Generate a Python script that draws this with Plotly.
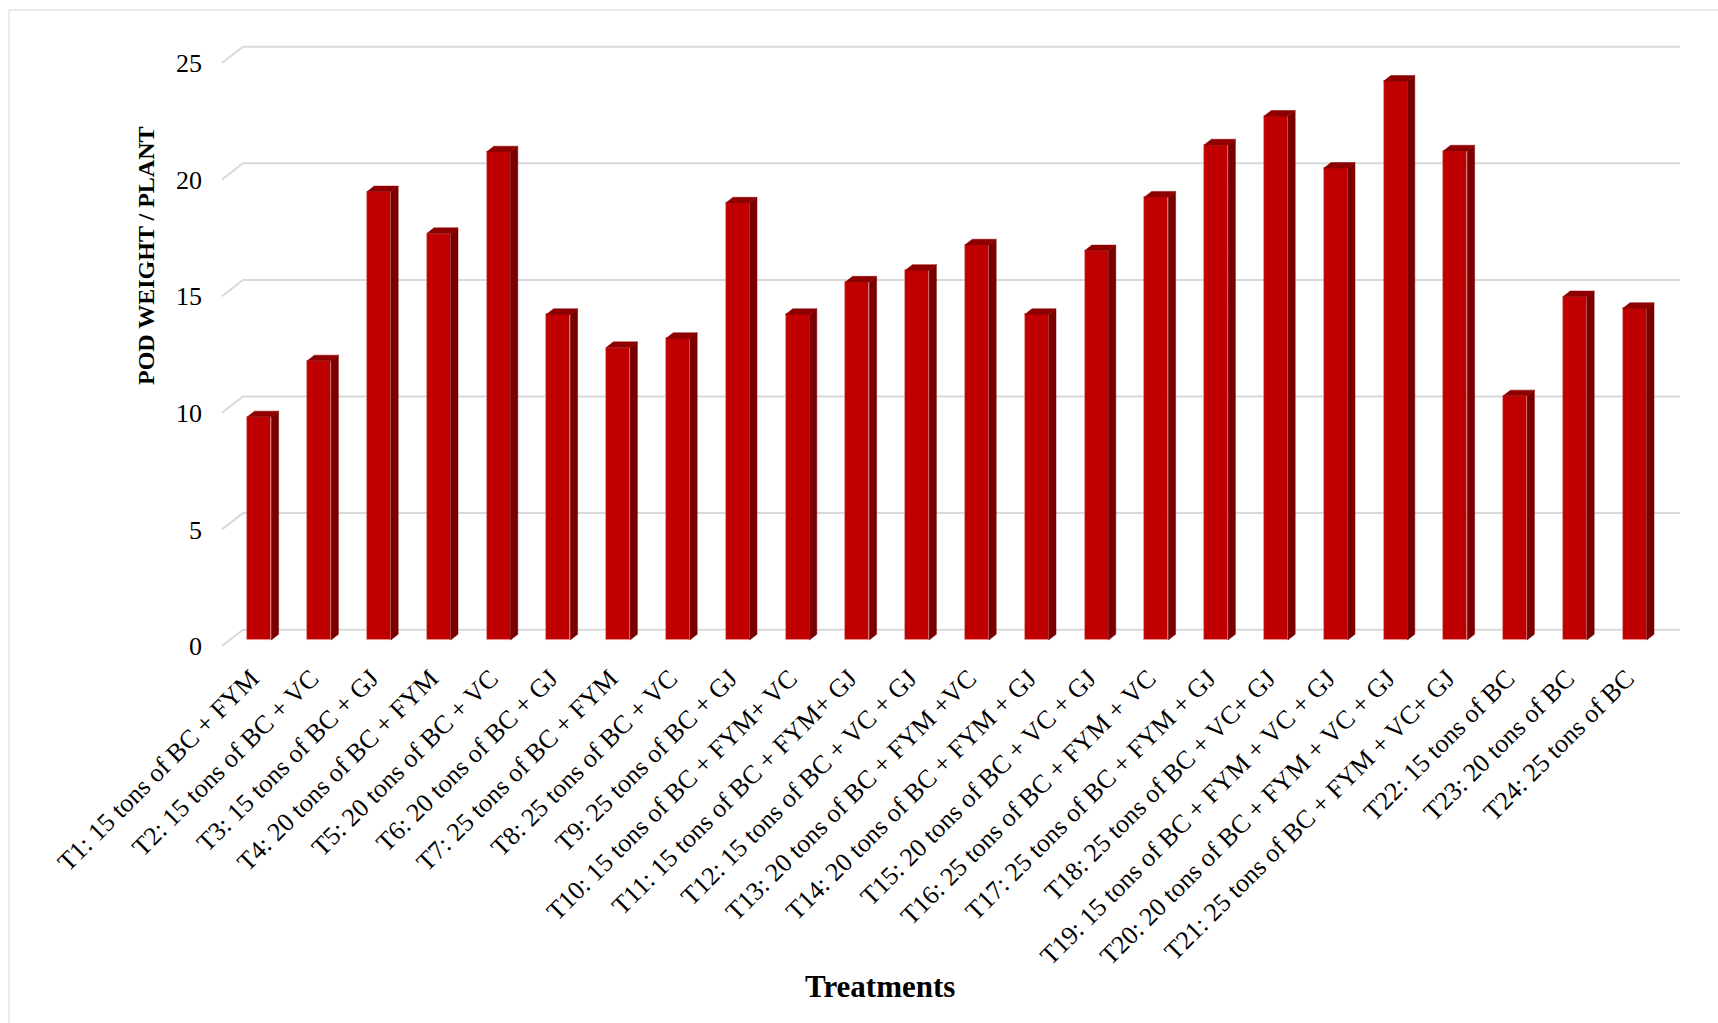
import plotly.graph_objects as go

# Treatment names and pod weight per plant
treatments = [
    "T1: 15 tons of BC + FYM", "T2: 15 tons of BC + VC", "T3: 15 tons of BC + GJ",
    "T4: 20 tons of BC + FYM", "T5: 20 tons of BC + VC", "T6: 20 tons of BC + GJ",
    "T7: 25 tons of BC + FYM", "T8: 25 tons of BC + VC", "T9: 25 tons of BC + GJ",
    "T10: 15 tons of BC + FYM+ VC", "T11: 15 tons of BC + FYM+ GJ",
    "T12: 15 tons of BC + VC + GJ", "T13: 20 tons of BC + FYM +VC",
    "T14: 20 tons of BC + FYM + GJ", "T15: 20 tons of BC + VC + GJ",
    "T16: 25 tons of BC + FYM + VC", "T17: 25 tons of BC + FYM + GJ",
    "T18: 25 tons of BC + VC+ GJ", "T19: 15 tons of BC + FYM + VC + GJ",
    "T20: 20 tons of BC + FYM + VC + GJ", "T21: 25 tons of BC + FYM + VC+ GJ",
    "T22: 15 tons of BC", "T23: 20 tons of BC", "T24: 25 tons of BC",
]
pod_weight = [
    9.57, 11.97, 19.22, 17.43, 20.93, 13.96, 12.54, 12.93, 18.74, 13.96,
    15.35, 15.85, 16.94, 13.96, 16.69, 18.99, 21.23, 22.46, 20.23, 23.96,
    20.97, 10.47, 14.72, 14.22,
]
y_ticks = [0, 5, 10, 15, 20, 25]

# ---- layout geometry (pixels) ----
W, H = 1718, 1023
plot_l, plot_r, plot_t, plot_b = 220, 1682, 30, 652
x_first, x_step = 259.3, 59.8      # centre of first column face, column pitch
y_zero, y_unit = 646, 23.32        # front-plane zero line, pixels per unit
wall_front_px, wall_back_px, wall_right_px = 222, 243, 1680
wall_depth_px = 16.3
bar_face_px, bar_depth_x_px, bar_depth_y_px, bar_lift_px = 24, 7.3, 5.7, 6
label_shift_px = 8                 # category labels sit slightly left of the column face

def xd(px):
    return (px - x_first) / x_step

x_range = [xd(plot_l), xd(plot_r)]
y_range = [(y_zero - plot_b) / y_unit, (y_zero - plot_t) / y_unit]

bar_w = bar_face_px / x_step
cap_dx = bar_depth_x_px / x_step
cap_dy = bar_depth_y_px / y_unit
base = bar_lift_px / y_unit
wall_dy = wall_depth_px / y_unit

idx = list(range(len(treatments)))
label_pos = [i - label_shift_px / x_step for i in idx]

fig = go.Figure()

# front faces of the columns
fig.add_trace(go.Bar(
    x=idx, y=pod_weight, base=[base] * len(idx), width=bar_w,
    marker=dict(color="#C00000", line=dict(color="rgba(235,160,160,0.7)", width=0.8)),
    showlegend=False, name="POD WEIGHT / PLANT",
))

# side and top faces giving depth
sx, sy, tx, ty = [], [], [], []
for i, v in zip(idx, pod_weight):
    xl, xr = i - bar_w / 2, i + bar_w / 2
    top = base + v
    sx += [xr, xr + cap_dx, xr + cap_dx, xr, xr, None]
    sy += [base, base + cap_dy, top + cap_dy, top, base, None]
    tx += [xl, xl + cap_dx, xr + cap_dx, xr, xl, None]
    ty += [top, top + cap_dy, top + cap_dy, top, top, None]
fig.add_trace(go.Scatter(x=sx, y=sy, mode="lines", fill="toself",
                         fillcolor="#7A0000", line=dict(color="#7A0000", width=0.5),
                         hoverinfo="skip", showlegend=False))
fig.add_trace(go.Scatter(x=tx, y=ty, mode="lines", fill="toself",
                         fillcolor="#8E0000", line=dict(color="#8E0000", width=0.5),
                         hoverinfo="skip", showlegend=False))

serif = "Liberation Serif, Times New Roman, serif"
plot_w = plot_r - plot_l
plot_h = plot_b - plot_t

def px_paper_x(px):
    return (px - plot_l) / plot_w

def px_paper_y(py):
    return (plot_b - py) / plot_h

# back wall gridlines (with the short receding segment at the left), behind the columns
grid_shapes = []
for t in y_ticks:
    grid_shapes.append(dict(
        type="path", xref="x", yref="y", layer="below",
        path=(f"M {xd(wall_front_px)},{t} L {xd(wall_back_px)},{t + wall_dy} "
              f"L {xd(wall_right_px)},{t + wall_dy}"),
        line=dict(color="#D9D9D9", width=2),
    ))

border = dict(
    type="rect", xref="paper", yref="paper",
    x0=px_paper_x(9), x1=px_paper_x(W + 20),
    y0=px_paper_y(H + 20), y1=px_paper_y(10),
    line=dict(color="#D9D9D9", width=1), fillcolor="rgba(0,0,0,0)", layer="below",
)

fig.update_layout(
    width=W, height=H,
    margin=dict(l=plot_l, r=W - plot_r, t=plot_t, b=H - plot_b, autoexpand=False),
    paper_bgcolor="white", plot_bgcolor="white",
    bargap=0,
    font=dict(family=serif, color="black"),
    xaxis=dict(
        range=x_range, tickmode="array", tickvals=label_pos, ticktext=treatments,
        tickangle=-45, tickfont=dict(family=serif, size=26, color="black"),
        showgrid=False, zeroline=False, showline=False, ticks="",
        ticklabelstandoff=5, automargin=False, fixedrange=True,
    ),
    yaxis=dict(
        range=y_range, tickmode="array", tickvals=y_ticks,
        tickfont=dict(family=serif, size=26, color="black"),
        showgrid=False, zeroline=False, showline=False, ticks="",
        ticklabelstandoff=17, automargin=False, fixedrange=True,
    ),
    shapes=grid_shapes + [border],
    annotations=[
        dict(text="<b>POD WEIGHT / PLANT</b>", xref="paper", yref="paper",
             x=px_paper_x(146), y=px_paper_y(256), textangle=-90,
             xanchor="center", yanchor="middle", showarrow=False,
             font=dict(family=serif, size=24, color="black")),
        dict(text="<b>Treatments</b>", xref="paper", yref="paper",
             x=px_paper_x(880), y=px_paper_y(986),
             xanchor="center", yanchor="middle", showarrow=False,
             font=dict(family=serif, size=31, color="black")),
    ],
)

fig.write_html("out.html")
